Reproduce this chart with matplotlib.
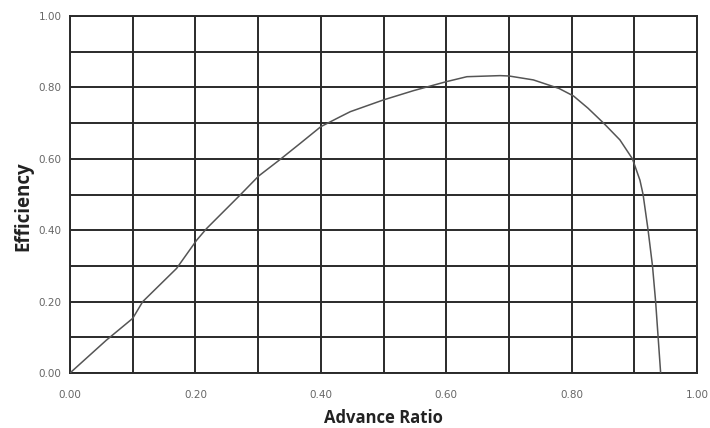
import numpy as np
import matplotlib.pyplot as plt
from matplotlib.ticker import MultipleLocator

# Propeller efficiency curve
advance_ratio = [0.0, 0.058, 0.10, 0.116, 0.170, 0.202, 0.218, 0.271, 0.301,
                 0.335, 0.367, 0.40, 0.43, 0.447, 0.50, 0.548, 0.60, 0.633,
                 0.686, 0.70, 0.739, 0.780, 0.803, 0.826, 0.851, 0.877, 0.897,
                 0.909, 0.914, 0.922, 0.929, 0.934, 0.938, 0.942]
efficiency = [0.0, 0.092, 0.153, 0.20, 0.293, 0.372, 0.405, 0.498, 0.552,
              0.598, 0.643, 0.690, 0.717, 0.732, 0.765, 0.791, 0.816, 0.830,
              0.833, 0.832, 0.821, 0.797, 0.776, 0.742, 0.700, 0.653, 0.600,
              0.540, 0.500, 0.400, 0.300, 0.200, 0.100, 0.0]

tick_vals = [0.0, 0.2, 0.4, 0.6, 0.8, 1.0]
tick_labels = ['0.00', '0.20', '0.40', '0.60', '0.80', '1.00']

fig = plt.figure(figsize=(7.1, 4.28), dpi=100)
ax = fig.add_axes([0.0986, 0.1285, 0.8831, 0.8341])

ax.plot(advance_ratio, efficiency, color='#555555', lw=1.1, zorder=3)

ax.set_xlim(0, 1)
ax.set_ylim(0, 1)
ax.set_xticks(tick_vals)
ax.set_xticklabels(tick_labels)
ax.set_yticks(tick_vals)
ax.set_yticklabels(tick_labels)
ax.xaxis.set_minor_locator(MultipleLocator(0.1))
ax.yaxis.set_minor_locator(MultipleLocator(0.1))
ax.grid(True, which='both', color='#2a2a2a', lw=1.4)
ax.set_axisbelow(True)
for s in ax.spines.values():
    s.set_color('#2a2a2a')
    s.set_linewidth(1.4)

ax.tick_params(which='both', length=0)
ax.tick_params(axis='x', pad=12, labelsize=7.5, labelcolor='#666666')
ax.tick_params(axis='y', pad=6, labelsize=7.5, labelcolor='#666666')

ax.set_xlabel('Advance Ratio', fontsize=12, fontweight='bold',
              family='Open Sans', color='#222222', labelpad=7)
ax.set_ylabel('Efficiency', fontsize=13.5, fontweight='bold',
              family='Open Sans', color='#222222')
ax.yaxis.set_label_coords(-0.059, 0.468)

fig.savefig('out.png', dpi=100)
